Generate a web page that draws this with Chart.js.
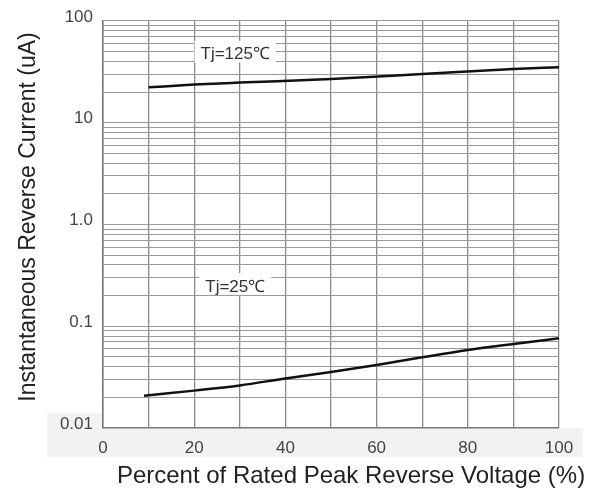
<!DOCTYPE html>
<html>
<head>
<meta charset="utf-8">
<script src="https://cdn.jsdelivr.net/npm/chart.js@4/dist/chart.umd.min.js"></script>
<style>
  html, body { margin: 0; padding: 0; background: #fff; }
  canvas { display: block; }
</style>
</head>
<body>
<canvas id="irChart" width="593" height="488"></canvas>
<script>
// percent of rated peak reverse voltage
var voltage125 = [10, 20, 30, 50, 70, 90, 100]
var current125 = [22.3, 23.7, 24.8, 26.9, 30.1, 33.7, 35.1]

var voltage25 = [9, 20, 30, 40, 50, 60, 70, 80, 90, 100]
var current25 = [0.0208, 0.0233, 0.0262, 0.0307, 0.0355, 0.0416, 0.0495, 0.0584, 0.067, 0.0762]

// decade labels on the y axis
var yTickValues = [0.01, 0.1, 1, 10, 100]
var yTickLabels = ['0.01', '0.1', '1.0', '10', '100']
var xTickLabels = ['0', '20', '40', '60', '80', '100']

// curve labels
var curveLabels = ['Tj=125℃', 'Tj=25℃']
var curveLabelX = [29, 29]
var curveLabelY = [50, 0.26]

var xTitle = 'Percent of Rated Peak Reverse Voltage (%)'
var yTitle = 'Instantaneous Reverse Current (uA)'

var fontFamily = '"Liberation Sans", Arial, sans-serif'

function toPoints(xs, ys) {
  return xs.map(function (x, i) { return { x: x, y: ys[i] } })
}

// light grey band behind the tick labels
var bandPlugin = {
  id: 'band',
  beforeDraw: function (chart) {
    var ctx = chart.ctx
    var area = chart.chartArea
    ctx.save()
    ctx.fillStyle = '#f2f2f2'
    ctx.fillRect(47, area.bottom, area.right + 24 - 47, 29)
    ctx.fillRect(47, area.bottom - 15, area.left - 47, 15)
    ctx.restore()
  }
}

// the "Tj=..." labels on the grid, and the two axis titles
var textPlugin = {
  id: 'texts',
  afterDatasetsDraw: function (chart) {
    var ctx = chart.ctx
    var xs = chart.scales.x
    var ys = chart.scales.y
    ctx.save()
    ctx.font = '17px ' + fontFamily
    ctx.textAlign = 'center'
    ctx.textBaseline = 'middle'
    curveLabels.forEach(function (text, i) {
      var px = xs.getPixelForValue(curveLabelX[i])
      var py = ys.getPixelForValue(curveLabelY[i])
      var w = ctx.measureText(text).width + 12
      ctx.fillStyle = '#fff'
      ctx.fillRect(px - w / 2, py - 11, w, 22)
      ctx.fillStyle = '#333'
      ctx.fillText(text, px, py + 3)
    })

    ctx.fillStyle = '#222'
    ctx.textBaseline = 'alphabetic'
    ctx.font = '24px ' + fontFamily
    ctx.fillText(xTitle, 351, 483)

    ctx.font = '23px ' + fontFamily
    ctx.translate(35, 217)
    ctx.rotate(-Math.PI / 2)
    ctx.fillText(yTitle, 0, 0)
    ctx.restore()
  }
}

var ctx = document.getElementById('irChart').getContext('2d')

var irChart = new Chart(ctx, {
  type: 'line',
  data: {
    datasets: [
      {
        label: 'Tj=125℃',
        data: toPoints(voltage125, current125),
        borderColor: '#111',
        borderWidth: 2.5,
        pointRadius: 0,
        cubicInterpolationMode: 'monotone',
        fill: false
      },
      {
        label: 'Tj=25℃',
        data: toPoints(voltage25, current25),
        borderColor: '#111',
        borderWidth: 2.5,
        pointRadius: 0,
        cubicInterpolationMode: 'monotone',
        fill: false
      }
    ]
  },
  options: {
    responsive: false,
    animation: false,
    layout: { padding: { top: 21, right: 34, left: 0, bottom: 0 } },
    plugins: {
      legend: { display: false },
      tooltip: { enabled: false }
    },
    scales: {
      x: {
        type: 'linear',
        min: 0,
        max: 100,
        afterFit: function (scale) { scale.height = 60 },
        border: { display: true, color: '#777', width: 1.5 },
        grid: { color: '#8a8a8a', lineWidth: 1.3, drawTicks: false },
        ticks: {
          stepSize: 10,
          autoSkip: false,
          maxRotation: 0,
          padding: 10,
          color: '#444',
          font: { size: 17, family: fontFamily },
          callback: function (v) {
            var i = xTickLabels.indexOf(String(v))
            return i >= 0 ? xTickLabels[i] : ''
          }
        }
      },
      y: {
        type: 'logarithmic',
        min: 0.01,
        max: 100,
        afterFit: function (scale) { scale.width = 103 },
        afterBuildTicks: function (scale) {
          var ticks = []
          yTickValues.forEach(function (d, k) {
            if (k === yTickValues.length - 1) {
              ticks.push({ value: d })
              return
            }
            for (var m = 1; m <= 9; m++) ticks.push({ value: +(d * m).toPrecision(3) })
          })
          scale.ticks = ticks
        },
        border: { display: true, color: '#777', width: 1.5 },
        grid: { color: '#999', lineWidth: 1.1, drawTicks: false },
        ticks: {
          autoSkip: false,
          padding: 10,
          labelOffset: -4,
          color: '#444',
          font: { size: 17, family: fontFamily },
          callback: function (v) {
            var i = yTickValues.indexOf(v)
            return i >= 0 ? yTickLabels[i] : ''
          }
        }
      }
    }
  },
  plugins: [bandPlugin, textPlugin]
})
</script>
</body>
</html>
